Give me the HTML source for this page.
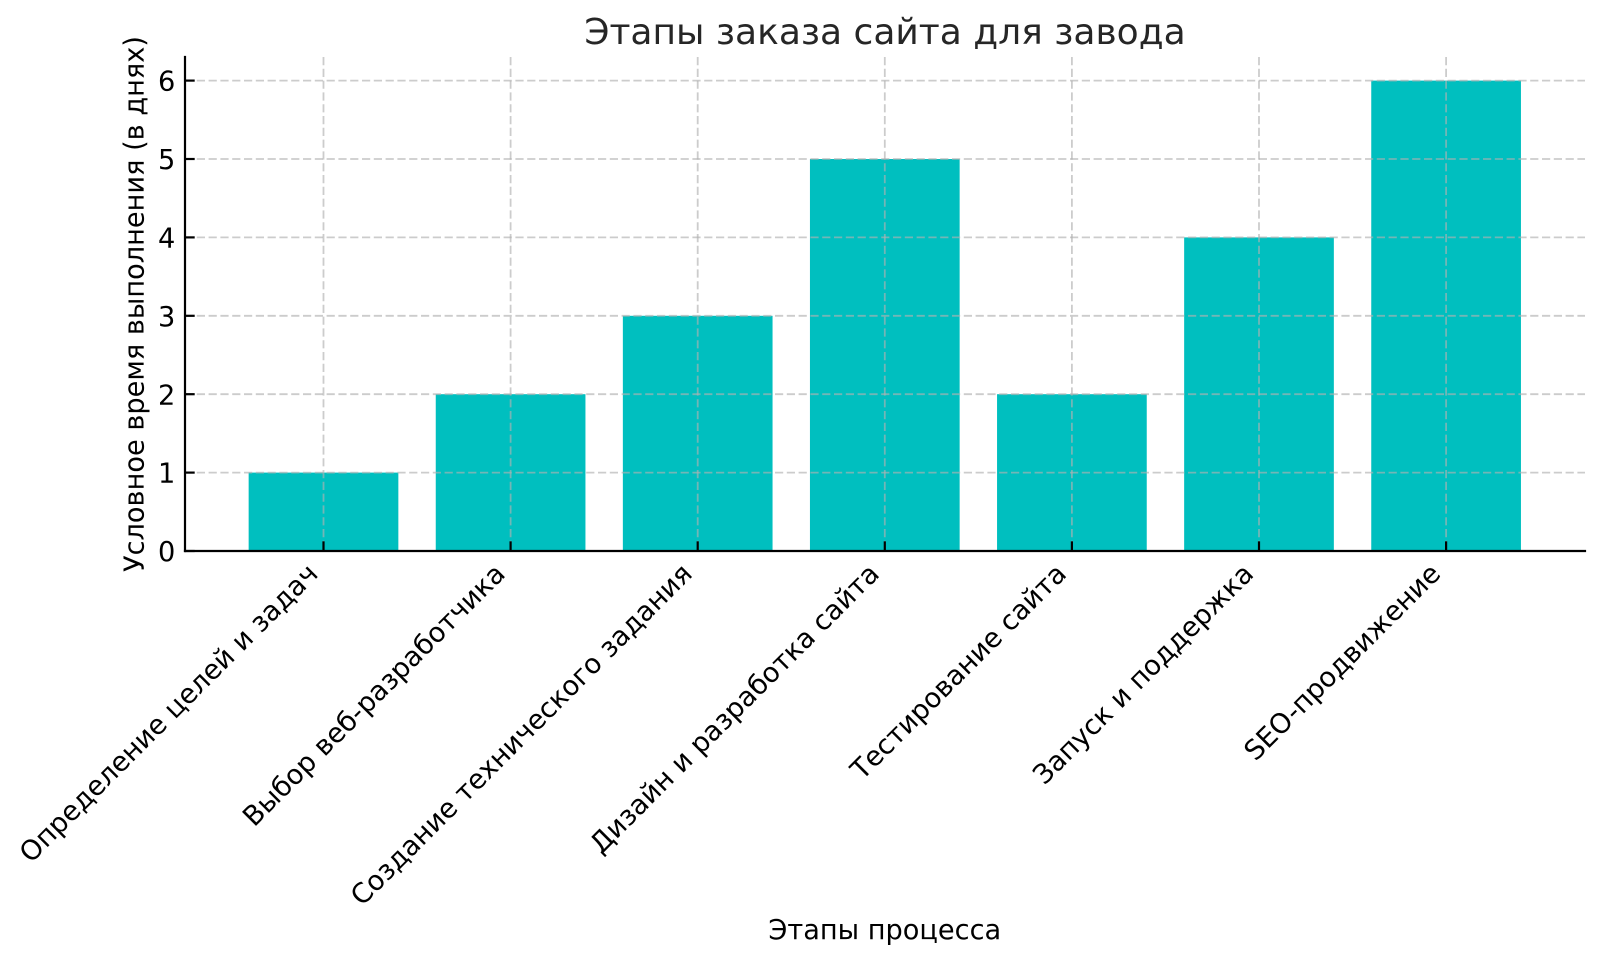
<!DOCTYPE html>
<html>
<head>
<meta charset="utf-8">
<style>
  html,body{margin:0;padding:0;background:#fff;}
  svg{display:block;}
  text{font-family:"DejaVu Sans","Liberation Sans",sans-serif;fill:#000;}
</style>
</head>
<body>
<svg width="1600" height="962" viewBox="0 0 1600 962" xmlns="http://www.w3.org/2000/svg">
  <rect x="0" y="0" width="1600" height="962" fill="#fff"/>

  <!-- bars -->
  <g fill="#00BFBF">
    <rect x="248.65" y="472.6" width="149.7" height="78.4"/>
    <rect x="435.75" y="394.2" width="149.7" height="156.8"/>
    <rect x="622.85" y="315.8" width="149.7" height="235.2"/>
    <rect x="809.95" y="159.0" width="149.7" height="392.0"/>
    <rect x="997.05" y="394.2" width="149.7" height="156.8"/>
    <rect x="1184.15" y="237.4" width="149.7" height="313.6"/>
    <rect x="1371.25" y="80.6" width="149.7" height="470.4"/>
  </g>

  <!-- grid -->
  <g stroke="#b0b0b0" stroke-opacity="0.65" stroke-width="1.8" stroke-dasharray="8.2 3.6" fill="none">
    <line x1="185" y1="472.6" x2="1585" y2="472.6"/>
    <line x1="185" y1="394.2" x2="1585" y2="394.2"/>
    <line x1="185" y1="315.8" x2="1585" y2="315.8"/>
    <line x1="185" y1="237.4" x2="1585" y2="237.4"/>
    <line x1="185" y1="159.0" x2="1585" y2="159.0"/>
    <line x1="185" y1="80.6" x2="1585" y2="80.6"/>
    <line x1="323.5" y1="57" x2="323.5" y2="551"/>
    <line x1="510.6" y1="57" x2="510.6" y2="551"/>
    <line x1="697.7" y1="57" x2="697.7" y2="551"/>
    <line x1="884.8" y1="57" x2="884.8" y2="551"/>
    <line x1="1071.9" y1="57" x2="1071.9" y2="551"/>
    <line x1="1259.0" y1="57" x2="1259.0" y2="551"/>
    <line x1="1446.1" y1="57" x2="1446.1" y2="551"/>
  </g>

  <!-- spines -->
  <g stroke="#000" stroke-width="2.2" fill="none" stroke-linecap="square">
    <line x1="185" y1="57" x2="185" y2="551"/>
    <line x1="185" y1="551" x2="1585" y2="551"/>
  </g>

  <!-- ticks (inward) -->
  <g stroke="#000" stroke-width="2.2">
    <line x1="185" y1="551" x2="194.7" y2="551"/>
    <line x1="185" y1="472.6" x2="194.7" y2="472.6"/>
    <line x1="185" y1="394.2" x2="194.7" y2="394.2"/>
    <line x1="185" y1="315.8" x2="194.7" y2="315.8"/>
    <line x1="185" y1="237.4" x2="194.7" y2="237.4"/>
    <line x1="185" y1="159.0" x2="194.7" y2="159.0"/>
    <line x1="185" y1="80.6" x2="194.7" y2="80.6"/>
    <line x1="323.5" y1="551" x2="323.5" y2="541.3"/>
    <line x1="510.6" y1="551" x2="510.6" y2="541.3"/>
    <line x1="697.7" y1="551" x2="697.7" y2="541.3"/>
    <line x1="884.8" y1="551" x2="884.8" y2="541.3"/>
    <line x1="1071.9" y1="551" x2="1071.9" y2="541.3"/>
    <line x1="1259.0" y1="551" x2="1259.0" y2="541.3"/>
    <line x1="1446.1" y1="551" x2="1446.1" y2="541.3"/>
  </g>

  <!-- y tick labels -->
  <g font-size="27.2" text-anchor="end">
    <text x="175.3" y="561.1">0</text>
    <text x="175.3" y="482.7">1</text>
    <text x="175.3" y="404.3">2</text>
    <text x="175.3" y="325.9">3</text>
    <text x="175.3" y="247.5">4</text>
    <text x="175.3" y="169.1">5</text>
    <text x="175.3" y="90.7">6</text>
  </g>

  <!-- x tick labels -->
  <g font-size="27.2" text-anchor="end">
    <text transform="translate(319.5,575.3) rotate(-45)">Определение целей и задач</text>
    <text transform="translate(506.6,575.3) rotate(-45)">Выбор веб-разработчика</text>
    <text transform="translate(693.7,575.3) rotate(-45)">Создание технического задания</text>
    <text transform="translate(880.8,575.3) rotate(-45)">Дизайн и разработка сайта</text>
    <text transform="translate(1067.9,575.3) rotate(-45)">Тестирование сайта</text>
    <text transform="translate(1255.0,575.3) rotate(-45)">Запуск и поддержка</text>
    <text transform="translate(1442.1,575.3) rotate(-45)">SEO-продвижение</text>
  </g>

  <!-- axis labels -->
  <text x="884.8" y="939" font-size="27.2" text-anchor="middle">Этапы процесса</text>
  <text transform="translate(143.5,304) rotate(-90)" font-size="27.2" text-anchor="middle">Условное время выполнения (в днях)</text>

  <!-- title -->
  <text x="885" y="44" font-size="36" text-anchor="middle" style="fill:#262626">Этапы заказа сайта для завода</text>
</svg>
</body>
</html>
